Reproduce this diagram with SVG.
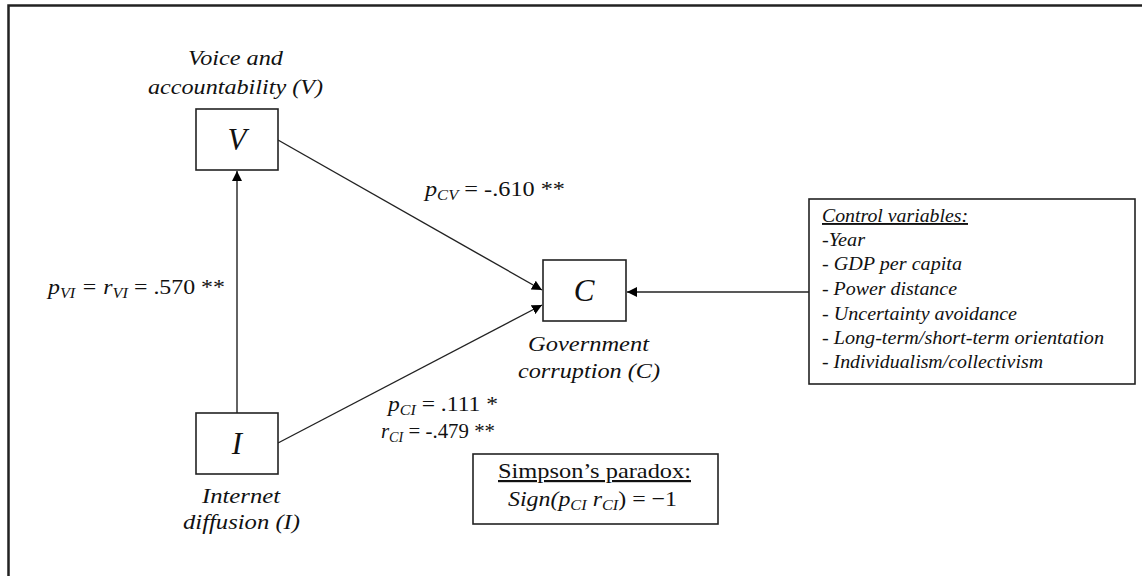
<svg xmlns="http://www.w3.org/2000/svg" width="1142" height="576" viewBox="0 0 1142 576">
<defs>
<marker id="ah" viewBox="0 0 10 10" refX="10" refY="5" markerWidth="10" markerHeight="10" markerUnits="userSpaceOnUse" orient="auto">
<path d="M0,0 L10,5 L0,10 Z" fill="#000"/>
</marker>
</defs>
<style>
.box{fill:#fff;stroke:#222;stroke-width:1.6}
.frame{fill:none;stroke:#222;stroke-width:2.5}
.t{font-family:"Liberation Serif",serif;font-style:italic;fill:#111}
.lbl{font-size:22px}
.big{font-size:31px}
.eq{font-size:22px}
.sub{font-size:15px}
.cv{font-size:19px}
.rm{font-family:"Liberation Serif",serif;fill:#111}
.con{stroke:#222;stroke-width:1.4;fill:none;marker-end:url(#ah)}
</style>
<rect width="1142" height="576" fill="#fff"/>
<rect class="frame" x="8.5" y="5.5" width="1150" height="600"/>
<g id="connectors">
<line class="con" x1="237" y1="413" x2="237" y2="171"/>
<line class="con" x1="278" y1="140" x2="542" y2="290"/>
<line class="con" x1="278" y1="443" x2="542" y2="305"/>
<line class="con" x1="809" y1="292" x2="627" y2="292"/>
</g>
<g id="node-V">
<rect class="box" x="196" y="109" width="82" height="61"/>
<text class="t big" x="237" y="150" text-anchor="middle">V</text>
<text class="t lbl" x="188" y="65" textLength="95" lengthAdjust="spacingAndGlyphs">Voice and</text>
<text class="t lbl" x="148" y="94" textLength="175" lengthAdjust="spacingAndGlyphs">accountability (V)</text>
</g>
<g id="node-I">
<rect class="box" x="196" y="413" width="82" height="61"/>
<text class="t big" x="237" y="454" text-anchor="middle">I</text>
<text class="t lbl" x="202" y="503" textLength="78" lengthAdjust="spacingAndGlyphs">Internet</text>
<text class="t lbl" x="183" y="529" textLength="117" lengthAdjust="spacingAndGlyphs">diffusion (I)</text>
</g>
<g id="node-C">
<rect class="box" x="543" y="260" width="83" height="61"/>
<text class="t big" x="584" y="301" text-anchor="middle">C</text>
<text class="t lbl" x="528" y="351" textLength="121" lengthAdjust="spacingAndGlyphs">Government</text>
<text class="t lbl" x="518" y="378" textLength="142" lengthAdjust="spacingAndGlyphs">corruption (C)</text>
</g>
<g id="label-VI">
<text class="t eq" x="48" y="294" textLength="177" lengthAdjust="spacingAndGlyphs">p<tspan class="sub" dy="4">VI</tspan><tspan dy="-4"> = r</tspan><tspan class="sub" dy="4">VI</tspan><tspan dy="-4" font-style="normal"> = .570 **</tspan></text>
</g>
<g id="label-CV">
<text class="t eq" x="425" y="196" textLength="140" lengthAdjust="spacingAndGlyphs">p<tspan class="sub" dy="4">CV</tspan><tspan dy="-4" font-style="normal"> = -.610 **</tspan></text>
</g>
<g id="label-CI">
<text class="t eq" x="388" y="411" textLength="110" lengthAdjust="spacingAndGlyphs">p<tspan class="sub" dy="4">CI</tspan><tspan dy="-4" font-style="normal"> = .111 *</tspan></text>
<text class="t eq" x="381" y="438" textLength="114" lengthAdjust="spacingAndGlyphs">r<tspan class="sub" dy="4">CI</tspan><tspan dy="-4" font-style="normal"> = -.479 **</tspan></text>
</g>
<g id="node-controls">
<rect class="box" x="809" y="199" width="326" height="185"/>
<text class="t cv" x="822" y="222" textLength="146" lengthAdjust="spacingAndGlyphs" text-decoration="underline">Control variables:</text>
<text class="t cv" x="822" y="246" textLength="43" lengthAdjust="spacingAndGlyphs">-Year</text>
<text class="t cv" x="822" y="270" textLength="140" lengthAdjust="spacingAndGlyphs">- GDP per capita</text>
<text class="t cv" x="822" y="295" textLength="135" lengthAdjust="spacingAndGlyphs">- Power distance</text>
<text class="t cv" x="822" y="320" textLength="195" lengthAdjust="spacingAndGlyphs">- Uncertainty  avoidance</text>
<text class="t cv" x="822" y="344" textLength="282" lengthAdjust="spacingAndGlyphs">- Long-term/short-term  orientation</text>
<text class="t cv" x="822" y="368" textLength="221" lengthAdjust="spacingAndGlyphs">- Individualism/collectivism</text>
</g>
<g id="node-simpson">
<rect class="box" x="473" y="454" width="245" height="70"/>
<text class="rm" x="498" y="478" font-size="22" textLength="193" lengthAdjust="spacingAndGlyphs" text-decoration="underline">Simpson’s paradox:</text>
<text class="t eq" x="508" y="506" textLength="169" lengthAdjust="spacingAndGlyphs">Sign(p<tspan class="sub" dy="4">CI</tspan><tspan dy="-4"> r</tspan><tspan class="sub" dy="4">CI</tspan><tspan dy="-4" font-style="normal">) = −1</tspan></text>
</g>
</svg>
